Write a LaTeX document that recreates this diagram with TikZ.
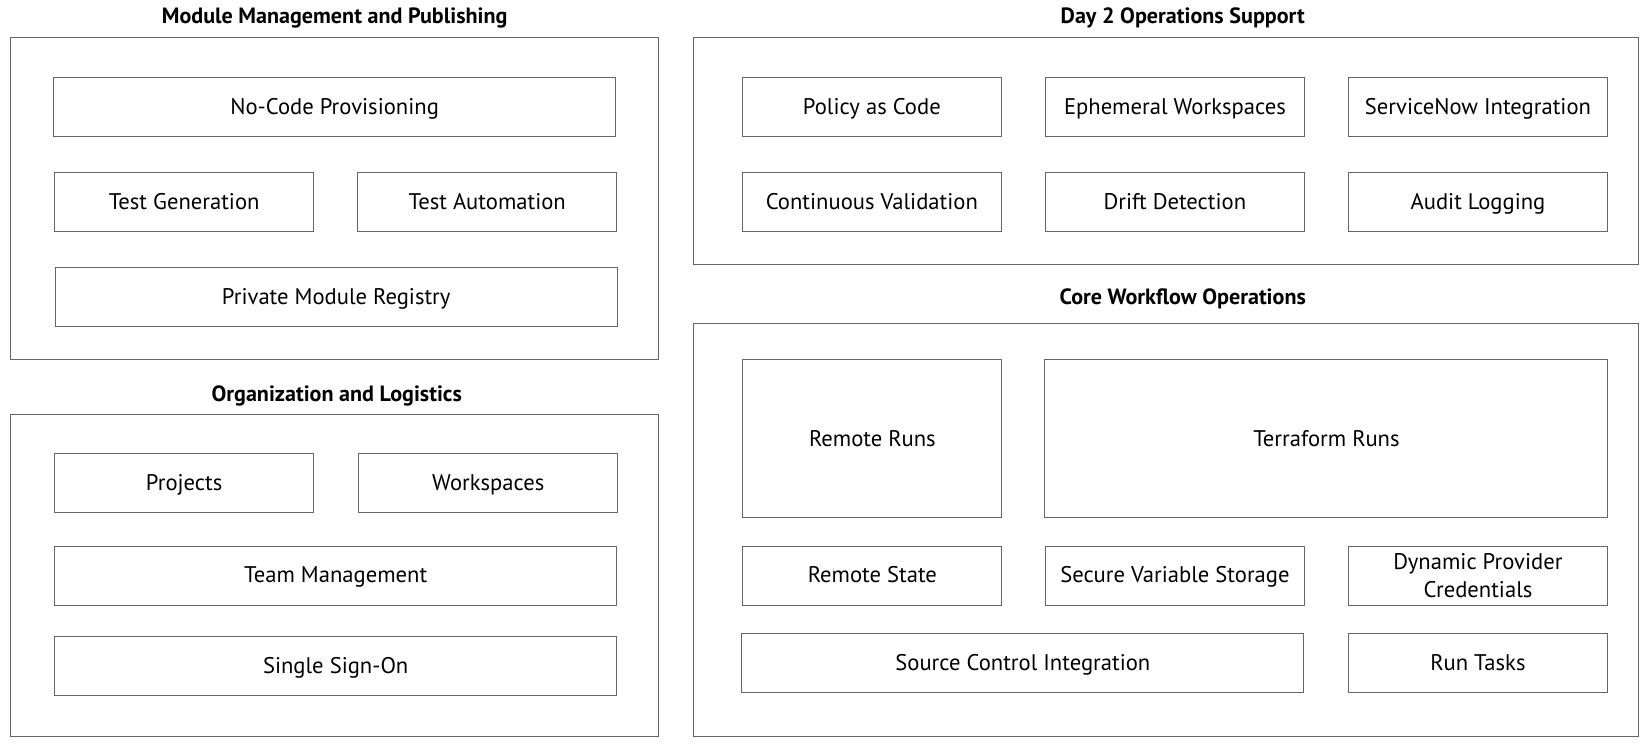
\documentclass[tikz,border=0pt]{standalone}
\usepackage{fontspec}
\setmainfont{PT Sans}
\begin{document}
\begin{tikzpicture}[x=1pt, y=-1pt,
        panel/.style={draw=black!60, line width=1pt, inner sep=0pt, outer sep=0pt, minimum width=616pt},
        heading/.style={font=\fontsize{21}{25}\selectfont\bfseries},
        item/.style={draw=black!60, line width=1pt, align=center, inner sep=0pt, outer sep=0pt,
                     font=\fontsize{21.5}{27}\selectfont, text height=16pt, text depth=2pt,
                     minimum width=246pt, minimum height=56pt},
        wide/.style={item, minimum width=534pt},
        tall/.style={minimum height=150pt}
    ]
    \useasboundingbox (0,0) rectangle (1568,710);

    \node[panel, minimum height=306pt] (mmp) at (318,189) {};
    \node[heading] (mmptitle) at (318,17) {Module Management and Publishing};
    \node[wide] (noco)     at (318,102)   {No-Code Provisioning};
    \node[item] (testgen)  at (175,192)   {Test Generation};
    \node[item] (testauto) at (463,192)   {Test Automation};
    \node[wide] (registry) at (319.5,282.5) {Private Module Registry};

    \node[panel, minimum height=306pt] (org) at (318,547) {};
    \node[heading] (orgtitle) at (320,376) {Organization and Logistics};
    \node[item] (projects)   at (175,459) {Projects};
    \node[item] (workspaces) at (464,459) {Workspaces};
    \node[wide] (team)       at (319,547) {Team Management};
    \node[wide] (sso)        at (319,633) {Single Sign-On};

    \node[panel, minimum width=898pt, minimum height=215pt] (day2) at (1108,143.5) {};
    \node[heading] (day2title) at (1124,17) {Day 2 Operations Support};
    \node[item] (policy)     at (828.5,102)  {Policy as Code};
    \node[item] (ephemeral)  at (1116.5,102) {Ephemeral Workspaces};
    \node[item] (servicenow) at (1404.5,102) {ServiceNow Integration};
    \node[item] (contval)    at (828.5,192)  {Continuous Validation};
    \node[item] (drift)      at (1116.5,192) {Drift Detection};
    \node[item] (audit)      at (1404.5,192) {Audit Logging};

    \node[panel, minimum width=898pt, minimum height=393pt] (core) at (1108,503.5) {};
    \node[heading] (coretitle) at (1124,284) {Core Workflow Operations};
    \node[item, tall] (remoteruns) at (829,417)    {Remote Runs};
    \node[wide, tall, minimum width=535pt] (tfruns) at (1260.5,417) {Terraform Runs};
    \node[item] (remotestate) at (829,547)    {Remote State};
    \node[item] (securevar)   at (1116.5,547) {Secure Variable Storage};
    \node[item, text height=, text depth=] (dynamic) at (1404.5,547) {Dynamic Provider\\Credentials};
    \node[wide] (scm)         at (972,630)    {Source Control Integration};
    \node[item] (runtasks)    at (1404.5,630) {Run Tasks};
\end{tikzpicture}
\end{document}
